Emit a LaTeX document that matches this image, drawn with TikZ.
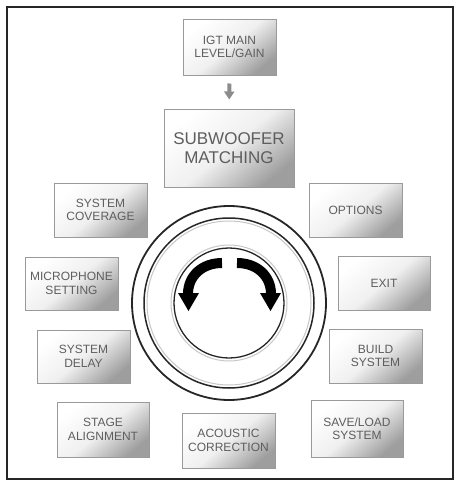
\documentclass[tikz,border=0pt]{standalone}
\usepackage{fontspec}
\setmainfont{Liberation Sans}
\usetikzlibrary{arrows.meta}
\definecolor{txt}{HTML}{5E5E5E}
\definecolor{bord}{HTML}{9A9A9A}
\tikzset{
  menubox/.style={draw=bord, line width=1pt, top color=white, bottom color=black!38,
    middle color=black!6, shading angle=40, inner sep=0pt, align=center, text=txt,
    font=\fontsize{12}{13.5}\selectfont},
  bigbox/.style={menubox, font=\fontsize{17}{19.5}\selectfont},
  ring/.style={draw=black!85, line width=1.8pt},
  halo/.style={draw=black!22, line width=1pt},
  knobarrow/.style={line width=10pt, black},
  knobhead/.style={fill=black, draw=none}
}
\begin{document}
\begin{tikzpicture}[x=1pt,y=-1pt]
\useasboundingbox (0,0) rectangle (459,482);
\fill[white] (0,0) rectangle (459,482);
\draw[line width=2.2pt, black!85] (7,7) rectangle (453,479);

\node[menubox, minimum width=93pt, minimum height=56pt] (igt) at (229.5,47) {IGT MAIN\\LEVEL/GAIN};
\node[bigbox, minimum width=130pt, minimum height=78pt] (sub) at (229,148) {SUBWOOFER\\MATCHING};
\node[menubox, minimum width=93pt, minimum height=54pt] (cov) at (100.5,210) {SYSTEM\\COVERAGE};
\node[menubox, minimum width=93pt, minimum height=53pt] (mic) at (71.5,283.5) {MICROPHONE\\SETTING};
\node[menubox, minimum width=93pt, minimum height=53pt] (delay) at (83.5,356.5) {SYSTEM\\DELAY};
\node[menubox, minimum width=92pt, minimum height=55pt] (stage) at (103,429.5) {STAGE\\ALIGNMENT};
\node[menubox, minimum width=93pt, minimum height=54pt] (opt) at (355.5,210) {OPTIONS};
\node[menubox, minimum width=92pt, minimum height=54pt] (exit) at (384,283) {EXIT};
\node[menubox, minimum width=93pt, minimum height=54pt] (build) at (375.5,356) {BUILD\\SYSTEM};
\node[menubox, minimum width=92pt, minimum height=57pt] (save) at (357,428.5) {SAVE/LOAD\\SYSTEM};
\node[menubox, minimum width=93pt, minimum height=55pt] (acou) at (228.5,440.5) {ACOUSTIC\\CORRECTION};

\draw[-{Triangle[width=10pt,length=8pt]}, line width=4pt, black!45, shorten <=8pt, shorten >=9pt] (igt) -- (sub);

% knob
\coordinate (knob) at (229,303);
\draw[halo] (knob) circle[radius=82pt];
\draw[halo] (knob) circle[radius=58pt];
\draw[ring] (knob) circle[radius=97pt];
\draw[ring, line width=1.5pt] (knob) circle[radius=85pt];
\draw[ring, line width=1.3pt] (knob) circle[radius=55pt];

\draw[knobarrow] (222,263) .. controls (202,263) and (188,276) .. (188,294);
\fill[knobhead] (178,293) -- (199,293) -- (188.5,311) -- cycle;
\draw[knobarrow] (237,263) .. controls (257,263) and (271,276) .. (271,294);
\fill[knobhead] (281,293) -- (260,293) -- (270.5,311) -- cycle;
\end{tikzpicture}
\end{document}
